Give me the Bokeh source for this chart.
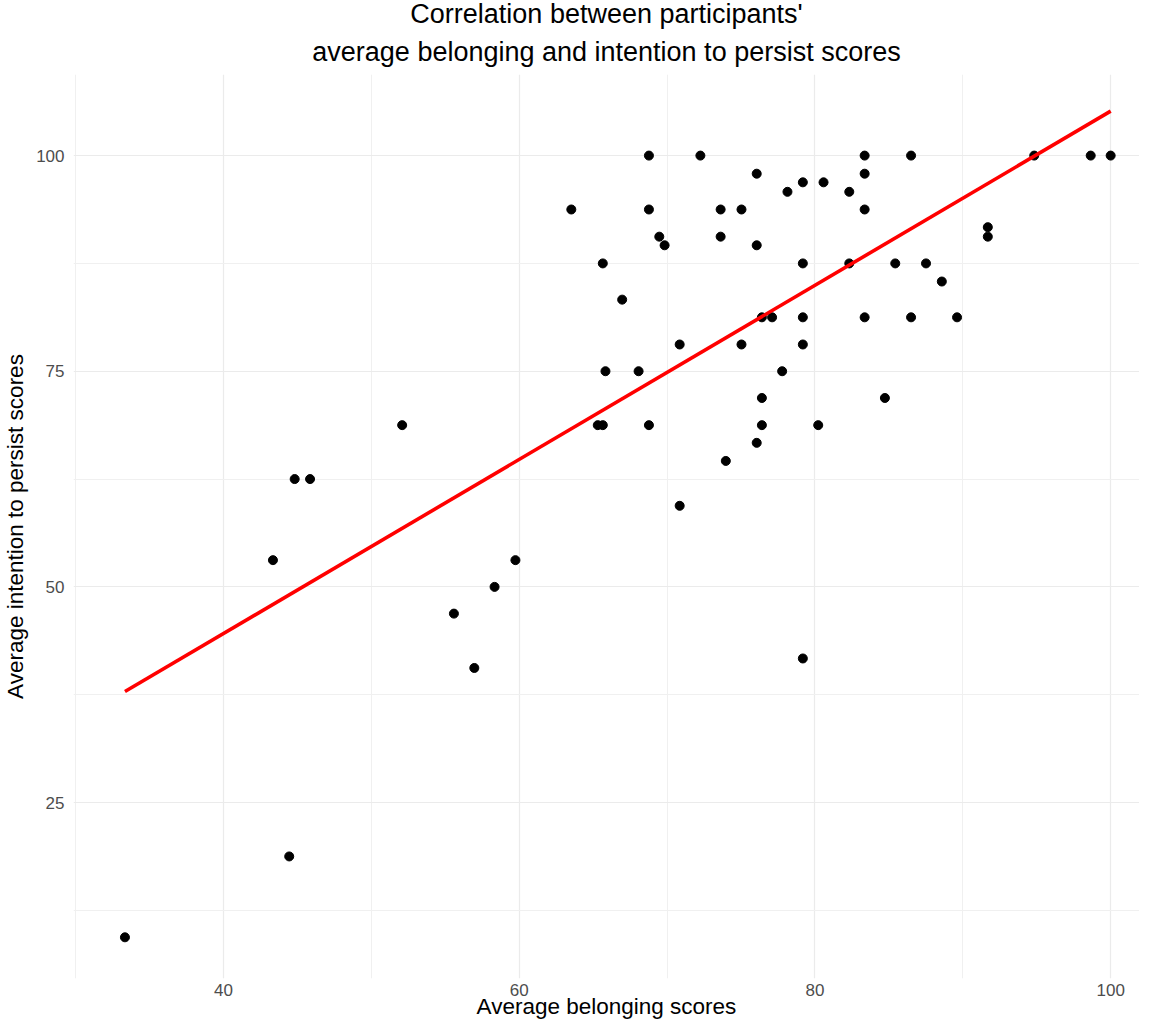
import numpy as np
from bokeh.plotting import figure
from bokeh.models import FixedTicker, Range1d, Title
from bokeh.embed import file_html
from bokeh.resources import INLINE

# Average belonging scores (x) and intention to persist scores (y)
belonging = [
    68.77, 72.25, 83.36, 86.50, 94.83, 98.65, 100.0,
    76.06, 83.36,
    79.18, 80.58,
    78.14, 82.32,
    63.52, 68.77, 73.62, 75.03, 83.36,
    91.69,
    69.47, 73.62, 91.69,
    69.83, 76.06,
    65.65, 79.18, 82.32, 85.43, 87.51,
    88.58,
    66.96,
    76.41, 77.10, 79.18, 83.36, 86.50, 89.61,
    70.85, 75.03, 79.18,
    65.83, 68.07, 77.78,
    76.41, 84.73,
    52.08, 65.31, 65.65, 68.77, 76.41, 80.22,
    76.06,
    73.97,
    44.81, 45.85,
    70.85,
    43.34, 59.74,
    58.33,
    55.58,
    79.18,
    56.96,
    44.44,
    33.33,
]
persist = [
    100.0, 100.0, 100.0, 100.0, 100.0, 100.0, 100.0,
    97.9, 97.9,
    96.9, 96.9,
    95.8, 95.8,
    93.75, 93.75, 93.75, 93.75, 93.75,
    91.7,
    90.6, 90.6, 90.6,
    89.6, 89.6,
    87.5, 87.5, 87.5, 87.5, 87.5,
    85.4,
    83.3,
    81.25, 81.25, 81.25, 81.25, 81.25, 81.25,
    78.1, 78.1, 78.1,
    75.0, 75.0, 75.0,
    71.9, 71.9,
    68.75, 68.75, 68.75, 68.75, 68.75, 68.75,
    66.7,
    64.6,
    62.5, 62.5,
    59.4,
    53.1, 53.1,
    50.0,
    46.9,
    41.7,
    40.6,
    18.75,
    9.375,
]

x_major = [40, 60, 80, 100]
x_minor = [30, 50, 70, 90]
y_major = [25, 50, 75, 100]
y_minor = [12.5, 37.5, 62.5, 87.5]

title_lines = ["Correlation between participants'",
               "average belonging and intention to persist scores"]
x_title = "Average belonging scores"
y_title = "Average intention to persist scores"

# linear fit (geom_smooth, method = "lm")
slope, intercept = np.polyfit(belonging, persist, 1)
fit_x = [min(belonging), max(belonging)]
fit_y = [intercept + slope * v for v in fit_x]

FONT = "Liberation Sans"

p = figure(width=1139, height=1021, output_backend="svg", toolbar_location=None,
           x_range=Range1d(29.85, 101.95), y_range=Range1d(4.6, 109.4),
           min_border_left=69, min_border_top=74, min_border_bottom=40,
           min_border_right=0, background_fill_color="white",
           border_fill_color="white", outline_line_color=None)

# second line is added first (closest to the plot), first line above it
p.add_layout(Title(text=title_lines[1], align="center", text_font=FONT,
                   text_font_size="27px", text_font_style="normal",
                   text_line_height=0.9, text_color="black", standoff=16), "above")
p.add_layout(Title(text=title_lines[0], align="center", vertical_align="middle",
                   text_font=FONT, text_font_size="27px", text_font_style="normal",
                   text_line_height=0.9, text_color="black", standoff=-6), "above")

for ax, major, minor in ((p.xaxis[0], x_major, x_minor), (p.yaxis[0], y_major, y_minor)):
    ax.ticker = FixedTicker(ticks=major, minor_ticks=minor)
    ax.axis_line_color = None
    ax.major_tick_line_color = None
    ax.minor_tick_line_color = None
    ax.major_tick_out = 0
    ax.minor_tick_out = 0
    ax.major_label_text_font = FONT
    ax.major_label_text_font_size = "17px"
    ax.major_label_text_color = "#4D4D4D"
    ax.axis_label_text_font = FONT
    ax.axis_label_text_font_size = "22.5px"
    ax.axis_label_text_font_style = "normal"
    ax.axis_label_text_color = "black"

p.xaxis.axis_label = x_title
p.yaxis.axis_label = y_title
p.xaxis.major_label_standoff = 5
p.yaxis.major_label_standoff = 9
p.xaxis.axis_label_standoff = -5
p.yaxis.axis_label_standoff = 5

for g in (p.xgrid[0], p.ygrid[0]):
    g.grid_line_color = "#EBEBEB"
    g.grid_line_width = 1.2
    g.minor_grid_line_color = "#F0F0F0"
    g.minor_grid_line_width = 1.0

p.scatter(belonging, persist, size=9, color="black", line_color="black")
p.line(fit_x, fit_y, line_color="#FF0000", line_width=3.6)

open("out.html", "w").write(file_html(p, INLINE))
